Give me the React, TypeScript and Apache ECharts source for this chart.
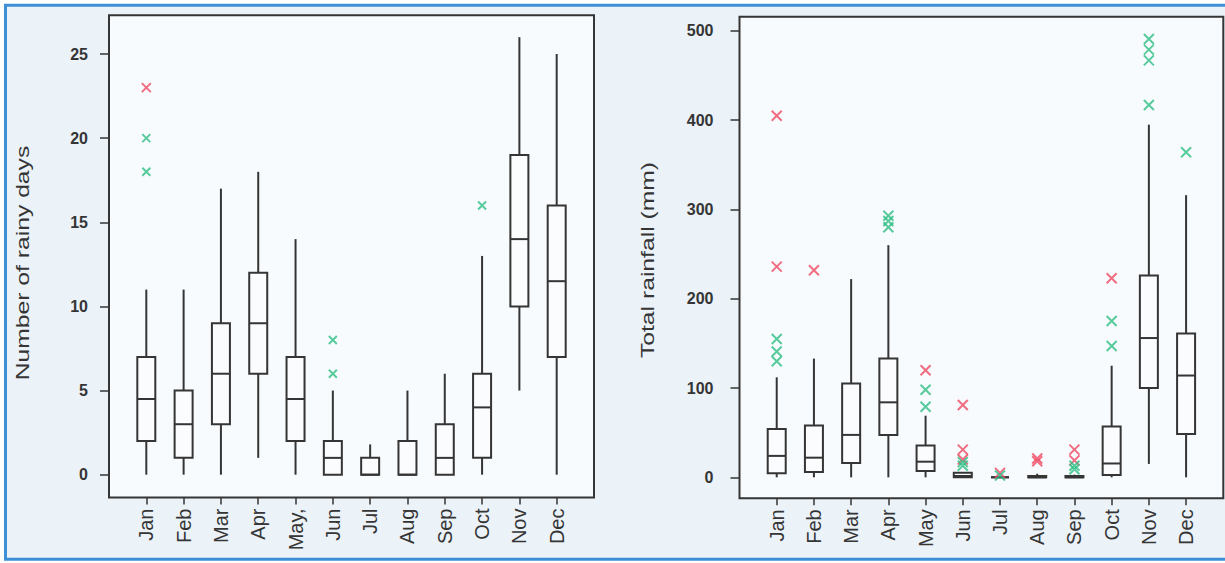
import React, { useEffect, useRef } from "react";
import * as echarts from "echarts";

// ---------- data ----------
const monthsLeft = ["Jan", "Feb", "Mar", "Apr", "May,", "Jun", "Jul", "Aug", "Sep", "Oct", "Nov", "Dec"];
const monthsRight = ["Jan", "Feb", "Mar", "Apr", "May", "Jun", "Jul", "Aug", "Sep", "Oct", "Nov", "Dec"];
const monthPositions = [1, 2, 3, 4, 5, 6, 7, 8, 9, 10, 11, 12];

const rainyDaysTicks = [0, 5, 10, 15, 20, 25];
const rainfallTicks = [0, 100, 200, 300, 400, 500];

// [min, Q1, median, Q3, max] per month
const rainyDaysStats = [
  [0, 2, 4.5, 7, 11],
  [0, 1, 3, 5, 11],
  [0, 3, 6, 9, 17],
  [1, 6, 9, 12, 18],
  [0, 2, 4.5, 7, 14],
  [0, 0, 1, 2, 5],
  [0, 0, 0, 1, 1.8],
  [0, 0, 0, 2, 5],
  [0, 0, 1, 3, 6],
  [0, 1, 4, 6, 13],
  [5, 10, 14, 19, 26],
  [0, 7, 11.5, 16, 25],
];
// [month position, value]
const rainyDaysRedOutliers = [[1, 23]];
const rainyDaysGreenOutliers = [[1, 20], [1, 18], [6, 8], [6, 6], [10, 16]];

const rainfallStats = [
  [0, 4.5, 24, 54, 112],
  [0, 6, 22, 58, 133],
  [0, 16, 47.5, 105, 222],
  [0, 47.5, 84, 133, 260],
  [0, 7, 17.5, 35.5, 69],
  [0, 0, 1.5, 5, 5],
  [0, 0, 0, 0, 0],
  [0, 0, 0, 1.5, 4],
  [0, 0, 0, 1.5, 3],
  [0, 2.5, 15.5, 57, 125],
  [15, 100, 156, 226, 395],
  [0, 48.5, 114, 161, 316],
];
const rainfallRedOutliers = [
  [1, 405], [1, 236], [2, 232], [5, 120], [6, 81], [6, 31], [6, 20],
  [7, 5], [8, 21], [8, 18], [9, 31], [9, 19], [10, 223],
];
const rainfallGreenOutliers = [
  [1, 155], [1, 141], [1, 130], [4, 293], [4, 287], [4, 280], [5, 98], [5, 79],
  [6, 17], [6, 13], [7, 2], [9, 13], [9, 9], [10, 175], [10, 147],
  [11, 491], [11, 479], [11, 467], [11, 417], [12, 364],
];

// ---------- styles ----------
const INK = "#353535";
const RED = "#ee4a62";
const GREEN = "#2fbf84";
const FONT = "'Liberation Sans', Arial, sans-serif";
const CROSS = "path://M0,0L10,10M10,0L0,10";

function boxRenderer(halfWidth: number) {
  return (params: any, api: any) => {
    const x = api.value(0);
    const pMin = api.coord([x, api.value(1)]);
    const pQ1 = api.coord([x, api.value(2)]);
    const pMed = api.coord([x, api.value(3)]);
    const pQ3 = api.coord([x, api.value(4)]);
    const pMax = api.coord([x, api.value(5)]);
    const cx = pMed[0];
    const lineStyle = { stroke: INK, lineWidth: 2, fill: null };
    return {
      type: "group",
      children: [
        { type: "line", shape: { x1: cx, y1: pQ1[1], x2: cx, y2: pMin[1] }, style: lineStyle },
        { type: "line", shape: { x1: cx, y1: pQ3[1], x2: cx, y2: pMax[1] }, style: lineStyle },
        {
          type: "rect",
          shape: { x: cx - halfWidth, y: pQ3[1], width: halfWidth * 2, height: pQ1[1] - pQ3[1] },
          style: { stroke: INK, lineWidth: 2, fill: "#fafcfd" },
        },
        { type: "line", shape: { x1: cx - halfWidth, y1: pMed[1], x2: cx + halfWidth, y2: pMed[1] }, style: lineStyle },
      ],
    };
  };
}

function xAxisFor(gridIndex: number, labels: string[]) {
  return {
    type: "value",
    gridIndex,
    position: "bottom",
    min: 0,
    max: 13,
    axisLine: { show: false, onZero: false },
    splitLine: { show: false },
    axisTick: {
      show: true,
      customValues: monthPositions,
      length: 7,
      lineStyle: { color: INK, width: 1.5 },
    },
    axisLabel: {
      customValues: monthPositions,
      formatter: (v: number) => labels[Math.round(v) - 1] ?? "",
      rotate: 90,
      fontSize: 20,
      margin: 11,
      color: INK,
      fontFamily: FONT,
    },
  };
}

function yAxisFor(gridIndex: number, min: number, max: number, ticks: number[], margin: number) {
  return {
    type: "value",
    gridIndex,
    position: "left",
    min,
    max,
    axisLine: { show: false, onZero: false },
    splitLine: { show: false },
    axisTick: {
      show: true,
      customValues: ticks,
      length: 9,
      lineStyle: { color: INK, width: 1.5 },
    },
    axisLabel: {
      customValues: ticks,
      fontSize: 16,
      margin,
      color: INK,
      fontFamily: FONT,
      fontWeight: "bold",
    },
  };
}

function boxSeries(axisIndex: number, stats: number[][]) {
  return {
    type: "custom",
    xAxisIndex: axisIndex,
    yAxisIndex: axisIndex,
    renderItem: boxRenderer(9),
    encode: { x: 0, y: [1, 2, 3, 4, 5] },
    data: stats.map((s, i) => [monthPositions[i], ...s]),
    z: 3,
  };
}

function outlierSeries(axisIndex: number, data: number[][], color: string, size: number) {
  return {
    type: "scatter",
    xAxisIndex: axisIndex,
    yAxisIndex: axisIndex,
    symbol: CROSS,
    symbolSize: size,
    itemStyle: { color: "rgba(0,0,0,0)", borderColor: color, borderWidth: 2 },
    data,
    clip: false,
    z: 4,
  };
}

export default function App() {
  const ref = useRef<HTMLDivElement>(null);

  useEffect(() => {
    if (!ref.current) return;
    const chart = echarts.init(ref.current, undefined, { renderer: "svg" });
    chart.setOption({
      animation: false,
      backgroundColor: "#ffffff",
      grid: [
        {
          left: 109, top: 15.3, width: 485, height: 482.2,
          show: true, borderColor: INK, borderWidth: 2, backgroundColor: "#f8fbfd",
        },
        {
          left: 739.5, top: 16.7, width: 483.8, height: 481.6,
          show: true, borderColor: INK, borderWidth: 2, backgroundColor: "#f8fbfd",
        },
      ],
      xAxis: [xAxisFor(0, monthsLeft), xAxisFor(1, monthsRight)],
      yAxis: [
        yAxisFor(0, -1.355, 27.3, rainyDaysTicks, 21),
        yAxisFor(1, -23.5, 515.9, rainfallTicks, 26),
      ],
      graphic: [
        {
          type: "rect",
          z: -10,
          silent: true,
          shape: { x: 5.5, y: 5.2, width: 1240, height: 554 },
          style: { fill: "#ebf2f8", stroke: "#3d8fd6", lineWidth: 3 },
        },
        {
          type: "text",
          x: 23,
          y: 263,
          rotation: Math.PI / 2,
          scaleX: 1.3,
          style: {
            text: "Number of rainy days",
            fontSize: 19,
            fontFamily: FONT,
            fill: INK,
            align: "center",
            verticalAlign: "middle",
          },
        },
        {
          type: "text",
          x: 648,
          y: 260,
          rotation: Math.PI / 2,
          scaleX: 1.3,
          style: {
            text: "Total rainfall (mm)",
            fontSize: 19,
            fontFamily: FONT,
            fill: INK,
            align: "center",
            verticalAlign: "middle",
          },
        },
      ],
      series: [
        boxSeries(0, rainyDaysStats),
        outlierSeries(0, rainyDaysRedOutliers, RED, 9),
        outlierSeries(0, rainyDaysGreenOutliers, GREEN, 8),
        boxSeries(1, rainfallStats),
        outlierSeries(1, rainfallRedOutliers, RED, 10),
        outlierSeries(1, rainfallGreenOutliers, GREEN, 10),
      ],
    });
    return () => chart.dispose();
  }, []);

  return (
    <div
      ref={ref}
      style={{ position: "fixed", left: 0, top: 0, width: 1225, height: 563 }}
    />
  );
}
